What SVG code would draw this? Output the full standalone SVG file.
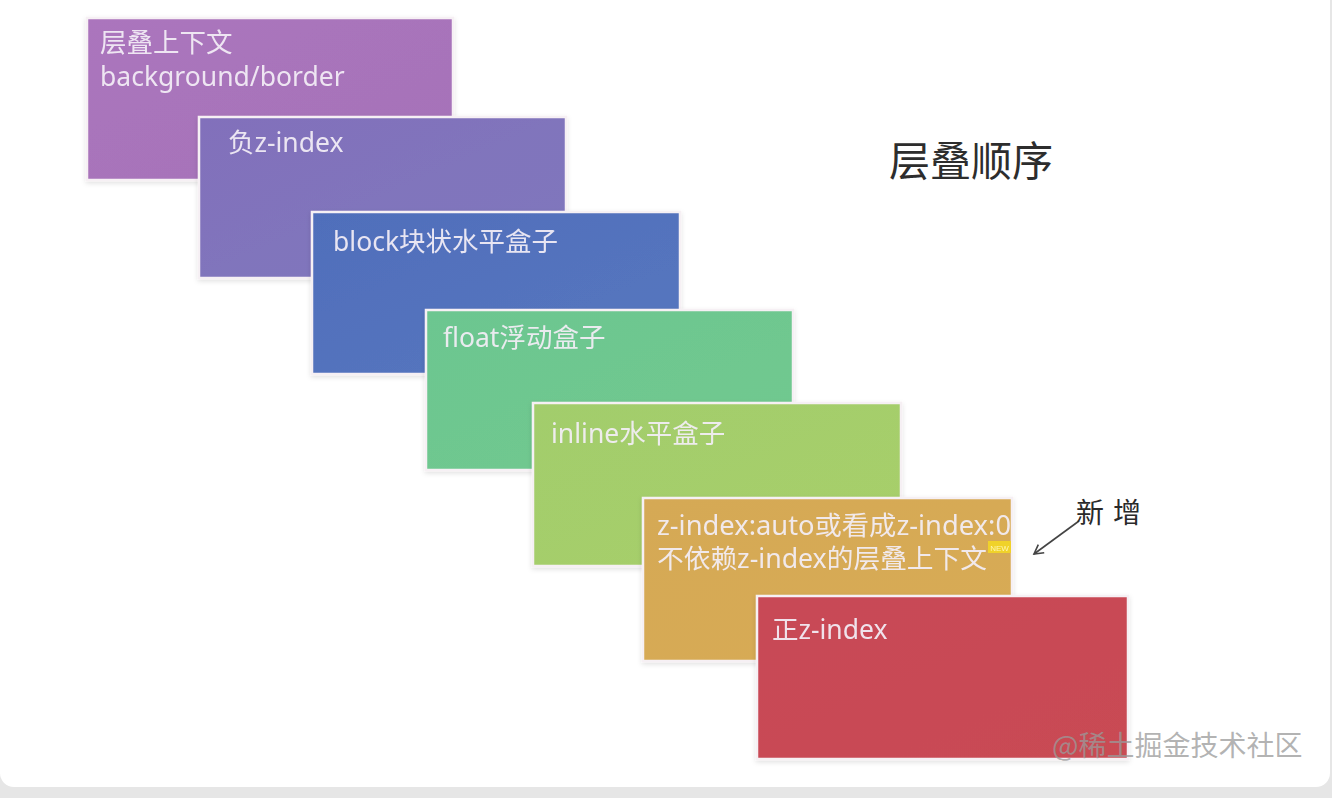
<svg xmlns="http://www.w3.org/2000/svg" width="1332" height="798" viewBox="0 0 1332 798">
<defs>
<style>
.box{stroke:#f6f0f4;stroke-width:2.5}
.lbl{font-family:"Noto Sans","Noto Sans CJK SC",sans-serif;font-size:26.5px;fill:#f3eef6;fill-opacity:0.93}
.title{font-family:"Noto Sans CJK SC",sans-serif;font-size:41px;fill:#2d2d2d}
.wm{font-family:"Noto Sans CJK SC",sans-serif;font-size:28px;fill:#9a9a9a;fill-opacity:0.75}
.hand{font-family:"Noto Sans CJK SC",serif;font-size:28px;fill:#2a2a2a}
</style>
<filter id="sh" x="-5%" y="-5%" width="110%" height="115%">
<feDropShadow dx="0" dy="2" stdDeviation="2.5" flood-color="#000" flood-opacity="0.12"/>
</filter>
<marker id="ah" viewBox="0 0 12 12" refX="10" refY="6" markerWidth="12" markerHeight="12" orient="auto" markerUnits="userSpaceOnUse">
<path d="M1,1 L10,6 L1,11" fill="none" stroke="#444" stroke-width="1.6"/>
</marker>
<linearGradient id="g1" x1="0" y1="0" x2="1" y2="1"><stop offset="0" stop-color="#ab75bd"/><stop offset="1" stop-color="#a572b8"/></linearGradient>
<linearGradient id="g2" x1="0" y1="0" x2="1" y2="1"><stop offset="0" stop-color="#8270bb"/><stop offset="1" stop-color="#7f78bd"/></linearGradient>
<linearGradient id="g3" x1="0" y1="0" x2="1" y2="1"><stop offset="0" stop-color="#506ebb"/><stop offset="1" stop-color="#5677bf"/></linearGradient>
<linearGradient id="g4" x1="0" y1="0" x2="1" y2="1"><stop offset="0" stop-color="#6cc690"/><stop offset="1" stop-color="#71c98f"/></linearGradient>
<linearGradient id="g5" x1="0" y1="0" x2="1" y2="1"><stop offset="0" stop-color="#a2cd6c"/><stop offset="1" stop-color="#a8cf6b"/></linearGradient>
<linearGradient id="g6" x1="0" y1="0" x2="1" y2="1"><stop offset="0" stop-color="#d5a955"/><stop offset="1" stop-color="#d8ab55"/></linearGradient>
<linearGradient id="g7" x1="0" y1="0" x2="1" y2="1"><stop offset="0" stop-color="#c84857"/><stop offset="1" stop-color="#c94b53"/></linearGradient>
</defs>
<rect x="0" y="0" width="1332" height="798" fill="#e6e6e6"/>
<rect x="0" y="-20" width="1330" height="807" rx="14" fill="#ffffff"/>

<g id="n1" filter="url(#sh)">
<rect class="box" x="87" y="18" width="366" height="162" fill="url(#g1)"/>
<text class="lbl" x="100" y="52">层叠上下文</text>
<text class="lbl" x="100" y="86">background/border</text>
</g>
<g id="n2" filter="url(#sh)">
<rect class="box" x="199" y="117" width="367" height="161" fill="url(#g2)"/>
<text class="lbl" x="228" y="152">负z-index</text>
</g>
<g id="n3" filter="url(#sh)">
<rect class="box" x="312" y="212" width="368" height="162" fill="url(#g3)"/>
<text class="lbl" x="333" y="251">block块状水平盒子</text>
</g>
<g id="n4" filter="url(#sh)">
<rect class="box" x="426" y="310" width="367" height="160" fill="url(#g4)"/>
<text class="lbl" x="443" y="347">float浮动盒子</text>
</g>
<g id="n5" filter="url(#sh)">
<rect class="box" x="533" y="403" width="368" height="163" fill="url(#g5)"/>
<text class="lbl" x="551" y="443">inline水平盒子</text>
</g>
<g id="n6" filter="url(#sh)">
<rect class="box" x="643" y="498" width="369" height="163" fill="url(#g6)"/>
<text class="lbl" x="657" y="535" textLength="354" lengthAdjust="spacingAndGlyphs">z-index:auto或看成z-index:0</text>
<text class="lbl" x="657" y="568" textLength="330" lengthAdjust="spacingAndGlyphs">不依赖z-index的层叠上下文</text>
<rect x="988" y="541" width="23" height="12" fill="#f0d22a"/>
<text x="999.5" y="550.5" text-anchor="middle" font-family="Liberation Sans,sans-serif" font-size="8" fill="#fff6b0">NEW</text>
</g>
<g id="n7" filter="url(#sh)">
<rect class="box" x="757" y="596" width="371" height="163" fill="url(#g7)"/>
<text class="lbl" x="772" y="639">正z-index</text>
</g>

<g id="title">
<text class="title" x="889" y="176">层叠顺序</text>
</g>

<g id="connectors">
<path d="M1079,521 L1034,554" fill="none" stroke="#444" stroke-width="1.6" marker-end="url(#ah)"/>
</g>
<g id="note">
<text class="hand" x="1076" y="523" letter-spacing="9">新增</text>
</g>

<text class="wm" x="1052" y="756">@稀土掘金技术社区</text>
</svg>
